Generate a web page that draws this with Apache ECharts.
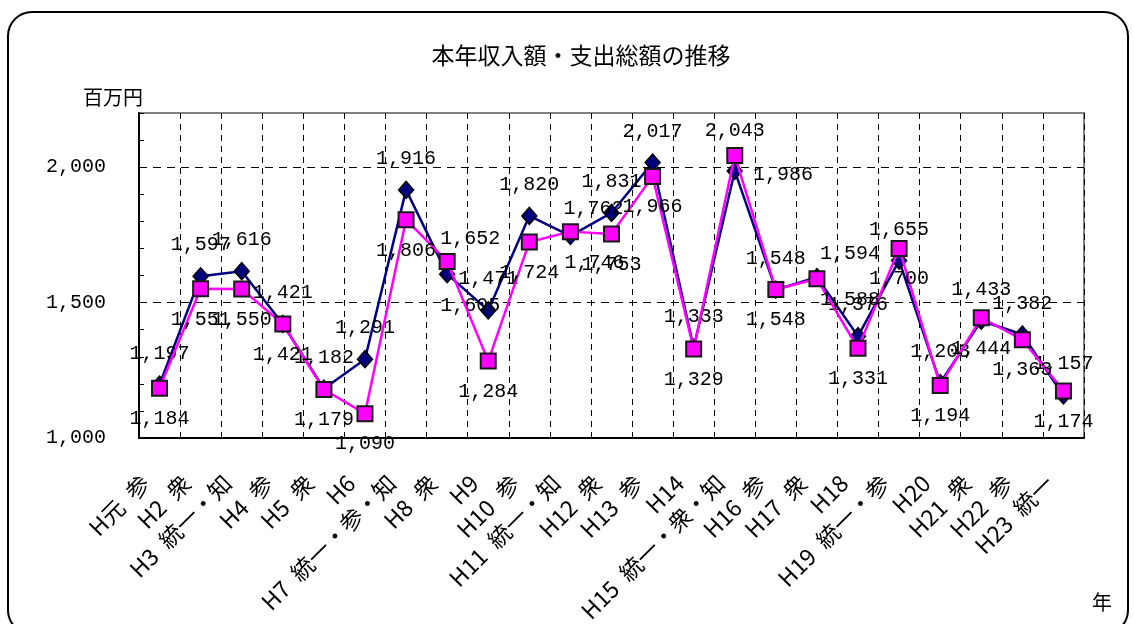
<!DOCTYPE html>
<html>
<head>
<meta charset="utf-8">
<script src="https://cdn.jsdelivr.net/npm/echarts@6/dist/echarts.min.js"></script>
<style>
html,body{margin:0;padding:0;background:#fff;}
#c{width:1134px;height:624px;}
</style>
</head>
<body>
<div id="c"></div>
<script>
// ---- data ----
const categories = ['H元\u2002参','H2\u2002衆','H3\u2002統一・知','H4\u2002参','H5\u2002衆','H6','H7\u2002統一・参・知','H8\u2002衆','H9','H10\u2002参','H11\u2002統一・知','H12\u2002衆','H13\u2002参','H14','H15\u2002統一・衆・知','H16\u2002参','H17\u2002衆','H18','H19\u2002統一・参','H20','H21\u2002衆','H22\u2002参','H23\u2002統一'];
const income  = [1197,1597,1616,1421,1182,1291,1916,1605,1471,1820,1746,1831,2017,1333,1986,1548,1594,1376,1655,1203,1433,1382,1157];
const expense = [1184,1551,1550,1421,1179,1090,1806,1652,1284,1724,1762,1753,1966,1329,2043,1548,1588,1331,1700,1194,1444,1363,1174];
const yTicks = [1000,1500,2000];
const titleText = '本年収入額・支出総額の推移';
const yUnit = '百万円';
const xUnit = '年';

// ---- label placement tweaks (style only) ----
const incomeLabelOverride = {
  7:  {position:'bottom', offset:[23,0]},
  10: {position:'bottom', offset:[24,-5]},
  14: {position:'right', distance:10, offset:[0,4]},
  16: {position:'top', offset:[33,8]}
};
const expenseLabelOverride = {
  7:  {position:'top', offset:[23,8]},
  10: {position:'top', offset:[23,8]},
  14: {position:'top', offset:[0,6]},
  16: {position:'bottom', offset:[33,-10]}
};

function fmt(v){ return String(v).replace(/\B(?=(\d{3})+(?!\d))/g, ','); }

const labelFont = {fontFamily:'Liberation Mono, DejaVu Sans Mono, monospace', fontSize:20, color:'#000'};

function buildData(values, overrides){
  return values.map((v,i)=>{
    const o = {value:v};
    if (overrides[i]) o.label = Object.assign({}, overrides[i]);
    return o;
  });
}

const chart = echarts.init(document.getElementById('c'));
chart.setOption({
  animation:false,
  backgroundColor:'#fff',
  title:{
    text:titleText, left:576, top:39, textAlign:'center',
    textStyle:{fontFamily:'Noto Sans CJK JP', fontSize:23, fontWeight:'normal', color:'#000'}
  },
  graphic:[
    {type:'rect', shape:{x:8,y:12,width:1120,height:622,r:24}, style:{fill:'none', stroke:'#000', lineWidth:2}, z:-10},
    {type:'text', x:113, y:97, style:{text:yUnit, fontFamily:'Noto Sans CJK JP', fontSize:20, fill:'#000', align:'center', verticalAlign:'middle'}},
    {type:'text', x:1102, y:602, style:{text:xUnit, fontFamily:'Noto Sans CJK JP', fontSize:20, fill:'#000', align:'center', verticalAlign:'middle'}}
  ],
  grid:{left:139, right:50, top:113, bottom:186, show:true, borderColor:'#808080', borderWidth:2, backgroundColor:'#fff', containLabel:false, outerBoundsMode:'none'},
  xAxis:{
    type:'category', data:categories, boundaryGap:true,
    axisLine:{lineStyle:{color:'#000', width:2}},
    axisTick:{show:true, inside:true, length:5, lineStyle:{color:'#000'}},
    splitLine:{show:true, lineStyle:{color:'#000', type:[6,5], width:1}},
    axisLabel:{interval:0, rotate:45, margin:27, padding:[0,20,0,0], fontFamily:'Noto Sans CJK JP', fontSize:23, color:'#000'}
  },
  yAxis:[
    {
      type:'value', min:1000, max:2200, interval:100,
      axisLine:{show:true, lineStyle:{color:'#000', width:2}},
      axisTick:{show:true, inside:true, length:5, lineStyle:{color:'#000'}},
      splitLine:{show:false},
      axisLabel:{margin:33, formatter:(v)=> yTicks.indexOf(v)>=0 ? fmt(v) : '', ...labelFont}
    },
    {
      type:'value', min:1000, max:2200, interval:500, position:'left',
      axisLine:{show:false}, axisTick:{show:false}, axisLabel:{show:false},
      splitLine:{show:true, showMinLine:false, showMaxLine:false, lineStyle:{color:'#000', type:[8,6], width:1}}
    }
  ],
  series:[
    {
      name:'収入', type:'line', yAxisIndex:0,
      data:buildData(income, incomeLabelOverride),
      symbol:'diamond', symbolSize:[15,17],
      itemStyle:{color:'#000080', borderColor:'#000', borderWidth:1.5},
      lineStyle:{color:'#000080', width:2.5},
      label:{show:true, position:'top', distance:12, formatter:(p)=>fmt(p.value), ...labelFont},
      z:3
    },
    {
      name:'支出', type:'line', yAxisIndex:0,
      data:buildData(expense, expenseLabelOverride),
      symbol:'rect', symbolSize:15,
      itemStyle:{color:'#FF00FF', borderColor:'#1a1a1a', borderWidth:2},
      lineStyle:{color:'#FF00FF', width:2.5},
      label:{show:true, position:'bottom', distance:12, formatter:(p)=>fmt(p.value), ...labelFont},
      z:4
    }
  ]
});
</script>
</body>
</html>
